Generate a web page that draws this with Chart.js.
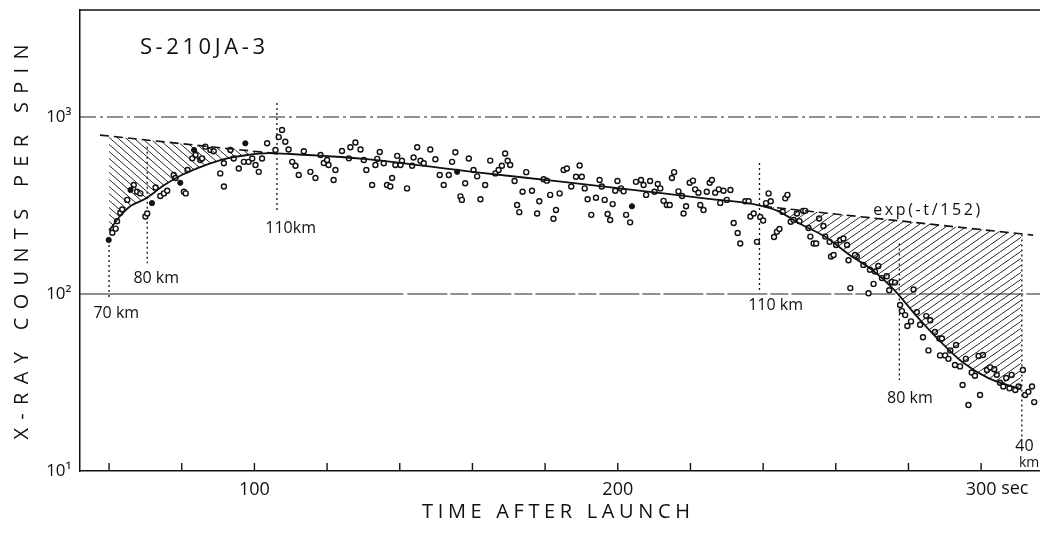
<!DOCTYPE html>
<html>
<head>
<meta charset="utf-8">
<title>S-210JA-3 X-ray counts per spin</title>
<script src="https://cdn.jsdelivr.net/npm/chart.js@4.4.1/dist/chart.umd.min.js"></script>
<style>
  html, body { margin: 0; padding: 0; background: #fff; }
  #wrap { width: 1040px; height: 537px; position: relative; }
</style>
</head>
<body>
<div id="wrap"><canvas id="xray"></canvas></div>
<script>
"use strict";

// Data (time after launch in sec, counts per spin)
var pointTimes = [
  60.9, 61.8, 62.2, 63.1, 63.6, 65.0, 66.8, 67.7, 68.6, 70.0, 70.5, 72.8, 74.1, 75.1, 76.0, 77.8,
  78.3, 80.6, 81.1, 81.6, 82.9, 83.8, 85.1, 85.6, 86.5, 87.9, 88.8, 90.6, 91.6, 91.6, 93.4, 94.3,
  95.7, 97.1, 98.4, 99.4, 100.3, 101.2, 102.1, 103.5, 105.8, 106.7, 107.6,
  108.5, 109.4, 110.4, 111.3, 112.2, 113.6, 115.4, 116.8, 118.2, 119.1, 120.0, 120.4, 121.8, 122.3,
  124.1, 126.4, 127.8, 129.2, 126.0, 130.1, 130.8, 132.4, 133.3, 133.8, 134.5, 135.6, 136.5, 137.4,
  137.9, 138.8, 139.3, 140.6, 140.2, 142.0, 143.4, 143.8, 144.8, 145.7, 146.6, 148.4, 149.8, 151.0,
  152.1, 153.5, 154.4, 155.3, 156.7, 157.1, 158.0, 159.0,
  160.3, 161.3, 162.2, 163.5, 164.9, 166.3, 167.2, 168.1, 169.0, 169.7, 170.4, 171.6, 172.3, 172.9,
  173.8, 174.8, 176.4, 177.8, 178.4, 179.6, 180.5, 181.4, 182.3, 183.0, 184.0, 185.1, 186.0, 187.2,
  188.5, 189.5, 190.1, 190.9, 191.7, 192.7, 194.0, 195.0, 195.6, 196.4, 197.2, 197.9, 198.6, 199.3,
  199.9, 200.9, 201.6, 202.3, 203.4, 205.0, 206.4, 207.1, 207.8, 208.9, 210.1,
  211.0, 211.7, 212.6, 213.5, 214.3, 214.9, 215.5, 216.7, 217.7, 218.1, 218.8, 219.8, 220.7, 221.3,
  222.2, 222.7, 223.6, 224.5, 225.3, 225.9, 226.8, 227.8, 228.2, 229.1, 230.0, 231.0, 231.9, 233.0,
  233.7, 235.1, 236.0, 236.5, 237.4, 238.3, 239.2, 240.0, 240.8, 241.5, 242.1, 243.0, 243.8, 244.5,
  245.4, 246.1, 246.7, 247.6, 248.4, 249.3, 250.0, 251.0, 251.6, 252.5, 253.0, 253.9, 254.6, 255.4,
  256.6, 257.1, 258.3, 258.7, 259.4, 260.1, 261.2, 262.1, 263.1, 263.5, 264.0, 265.8,
  265.3, 267.6, 269.0, 269.4, 270.4, 270.8, 271.7, 272.7, 274.0, 274.7, 275.4, 276.3, 277.7, 278.2,
  279.1, 279.7, 280.7, 281.4, 282.3, 283.2, 284.0, 284.9, 286.0, 285.5, 287.3, 288.5, 289.2, 288.7,
  290.1, 291.0, 291.5, 293.1, 292.8, 294.2, 294.9, 295.8, 296.5, 297.4, 298.3, 299.3, 299.7, 300.5,
  301.6, 302.5, 303.6, 304.3, 305.2, 306.1, 306.9, 307.8, 308.4, 309.4, 310.3, 311.5, 312.1, 313.0,
  314.0, 314.6
];
var pointCounts = [
  222, 234, 258, 288, 300, 340, 413, 378, 370, 274, 285, 400, 358, 370, 383, 470,
  452, 378, 370, 502, 584, 610, 572, 584, 680, 651, 640, 480, 405, 548, 651, 583,
  512, 558, 558, 583, 536, 490, 583, 710, 651, 770, 845,
  724, 655, 558, 530, 470, 640, 490, 452, 610, 550, 572, 536, 441, 502,
  643, 675, 718, 655, 584, 572, 502, 413, 536, 580, 634, 548, 413, 405,
  452, 536, 603, 566, 536, 395, 530, 590, 675, 566, 548, 655, 577, 470,
  413, 470, 558, 632, 356, 340, 422, 583,
  502, 462, 343, 413, 567, 480, 502, 530, 622, 566, 536, 435, 318, 290,
  378, 488, 383, 285, 334, 445, 437, 363, 266, 298, 370, 502, 512, 405,
  460, 532, 460, 395, 343, 280, 350, 441, 405, 340, 283, 262, 322, 383,
  435, 395, 380, 280, 254, 430, 441, 413, 363, 435, 378,
  418, 395, 336, 318, 318, 452, 488, 380, 358, 285, 313, 425, 437, 390,
  373, 318, 298, 378, 425, 441, 373, 390, 327, 383, 340, 387, 252, 221,
  193, 334, 334, 274, 285, 197, 272, 260, 326, 370, 334, 210, 225, 233,
  291, 347, 363, 256, 262, 285, 258, 295, 295, 236, 211, 193, 193, 267,
  242, 211, 197, 163, 166, 189, 202, 206, 189, 155, 108, 163,
  166, 146, 101, 137, 114, 134, 144, 123, 126, 105, 117, 116, 86.7, 80,
  76, 66, 70, 106, 79, 67, 57, 75, 71, 48, 61, 56, 56, 45,
  45, 43, 48, 51.5, 39.7, 39, 30.6, 43, 23.6, 36, 34.5, 44.6, 26.9, 45.2,
  37.2, 38.5, 37.6, 35, 31.5, 30, 33.5, 29.3, 34.9, 28.7, 30, 37.2, 26.9, 28,
  30, 24.5
];
var filledTimes = [59.9, 65.9, 71.8, 79.6, 83.4, 97.5, 155.8, 203.9];
var filledCounts = [202, 387, 326, 425, 651, 710, 490, 313];

// fitted curve
var curveTimes = [60, 63, 66, 70, 75, 80, 86, 92, 98, 104, 110, 130, 160, 185, 210, 225,
  238, 244, 250, 257, 264, 270, 276, 282, 288, 295, 302, 311];
var curveCounts = [228, 275, 315, 345, 410, 470, 530, 580, 610, 625, 618, 580, 490, 430, 375, 345,
  320, 295, 250, 211, 165, 137, 106, 76, 56, 41, 33.5, 29];

// exp(-t/152) envelope, left and right pieces
var envLeftTimes = [57.5, 107];
var envLeftCounts = [790, 618];
var envRightTimes = [240, 314.3];
var envRightCounts = [313, 215];

// altitude markers
var markerTimes = [60, 70.5, 106.2, 239, 277.5, 311.2];
var markerTop = [202, 680, 1200, 549, 193, 217];
var markerBottom = [94, 149, 298, 101, 32.7, 15.6];
var markerLabels = ["70 km", "80 km", "110km", "110 km", "80 km", "40"];

var xTickLabels = [100, 200, 300];
var xTickMarks = [60, 80, 100, 120, 140, 160, 180, 200, 220, 240, 260, 280, 300];
var yTickValues = [10, 100, 1000];
var yTickText = { 10: "10\u00b9", 100: "10\u00b2", 1000: "10\u00b3" };

var FONT = "'Open Sans', 'DejaVu Sans', sans-serif";

function toXY(ts, vs) {
    return ts.map(function (t, i) { return { x: t, y: vs[i] }; });
}

// hatch pattern for the shaded areas
function hatch(w, h, rising) {
    var c = document.createElement("canvas");
    c.width = w; c.height = h;
    var g = c.getContext("2d");
    g.strokeStyle = "#111";
    g.lineWidth = 0.9;
    g.beginPath();
    for (var k = -1; k <= 1; k++) {
        if (rising) {
            g.moveTo(k * w, h); g.lineTo(k * w + w, 0);
        } else {
            g.moveTo(k * w, 0); g.lineTo(k * w + w, h);
        }
    }
    g.stroke();
    return g.createPattern(c, "repeat");
}

// draw text with the letters spread out to a given width
function spacedText(ctx, text, x, y, width, align) {
    var chars = text.split("");
    var widths = chars.map(function (c) { return ctx.measureText(c).width; });
    var natural = widths.reduce(function (a, b) { return a + b; }, 0);
    var gap = chars.length > 1 ? (width - natural) / (chars.length - 1) : 0;
    var cx = align === "center" ? x - width / 2 : x;
    ctx.textAlign = "left";
    chars.forEach(function (c, i) {
        ctx.fillText(c, cx, y);
        cx += widths[i] + gap;
    });
}

var labelSpots = [
    { t: 55.7, v: 78 }, { t: 66.7, v: 123 }, { t: 103, v: 236 },
    { t: 235.9, v: 86.7 }, { t: 274.1, v: 25.8 }, { t: 309.4, v: 13.7 }
];

var decor = {
    id: "decor",
    beforeDatasetsDraw: function (chart) {
        var ctx = chart.ctx, a = chart.chartArea, ys = chart.scales.y;
        ctx.save();
        ctx.strokeStyle = "#222";
        ctx.lineWidth = 1;
        var y3 = ys.getPixelForValue(1000);
        ctx.setLineDash([16, 4, 3, 4]);
        ctx.beginPath(); ctx.moveTo(a.left, y3); ctx.lineTo(a.right, y3); ctx.stroke();
        var y2 = ys.getPixelForValue(100);
        ctx.lineWidth = 1.2;
        ctx.setLineDash([]);
        var split = chart.scales.x.getPixelForValue(141);
        ctx.beginPath(); ctx.moveTo(a.left, y2); ctx.lineTo(split, y2); ctx.stroke();
        ctx.setLineDash([40, 3, 18, 3]);
        ctx.beginPath(); ctx.moveTo(split + 4, y2); ctx.lineTo(a.right, y2); ctx.stroke();
        ctx.restore();
    },
    afterDatasetsDraw: function (chart) {
        var ctx = chart.ctx, a = chart.chartArea;
        var xs = chart.scales.x, ys = chart.scales.y;
        ctx.save();
        ctx.strokeStyle = "#111";
        ctx.fillStyle = "#111";
        ctx.setLineDash([]);

        // frame top
        ctx.lineWidth = 1.5;
        ctx.beginPath(); ctx.moveTo(a.left, a.top); ctx.lineTo(a.right, a.top); ctx.stroke();

        // small inward ticks on the time axis
        ctx.lineWidth = 1.4;
        xTickMarks.forEach(function (t) {
            var px = xs.getPixelForValue(t);
            ctx.beginPath(); ctx.moveTo(px, a.bottom); ctx.lineTo(px, a.bottom - 8); ctx.stroke();
        });

        ctx.textBaseline = "middle";

        // "sec" after 300
        ctx.font = "18px " + FONT;
        ctx.textAlign = "left";
        ctx.fillText("sec", xs.getPixelForValue(300) + 20, a.bottom + 18);

        // altitude labels
        ctx.font = "16px " + FONT;
        markerLabels.forEach(function (txt, i) {
            var s = labelSpots[i];
            ctx.textAlign = "left";
            ctx.fillText(txt, xs.getPixelForValue(s.t), ys.getPixelForValue(s.v));
        });
        ctx.font = "14px " + FONT;
        ctx.fillText("km", xs.getPixelForValue(310.4), ys.getPixelForValue(11.1));

        // envelope label
        ctx.font = "16px " + FONT;
        spacedText(ctx, "exp(-t/152)", xs.getPixelForValue(270.3), ys.getPixelForValue(298), 107, "left");

        // flight name
        ctx.font = "22px " + FONT;
        spacedText(ctx, "S-210JA-3", xs.getPixelForValue(68.5), ys.getPixelForValue(2455), 125, "left");

        // axis titles
        ctx.font = "20px " + FONT;
        spacedText(ctx, "TIME AFTER LAUNCH", 556, 512, 268, "center");
        ctx.translate(22, 242);
        ctx.rotate(-Math.PI / 2);
        spacedText(ctx, "X-RAY COUNTS PER SPIN", 0, 0, 395, "center");
        ctx.restore();
    }
};

var datasets = [
    {   // 0: fitted curve
        data: toXY(curveTimes, curveCounts),
        showLine: true, borderColor: "#111", borderWidth: 1.8,
        pointRadius: 0, cubicInterpolationMode: "monotone", fill: false
    },
    {   // 1: left envelope, hatched down to the curve
        data: toXY(envLeftTimes, envLeftCounts),
        showLine: true, borderColor: "#111", borderWidth: 1.6, borderDash: [9, 5],
        pointRadius: 0, fill: "-1", backgroundColor: hatch(8, 7, false)
    },
    {   // 2: right envelope, hatched down to the curve
        data: toXY(envRightTimes, envRightCounts),
        showLine: true, borderColor: "#111", borderWidth: 1.6, borderDash: [9, 5],
        pointRadius: 0, fill: "-2", backgroundColor: hatch(10, 7, true)
    },
    {   // 3: open points
        data: toXY(pointTimes, pointCounts),
        pointRadius: 2.5, pointBorderWidth: 1.4,
        pointBackgroundColor: "#fff", pointBorderColor: "#111"
    },
    {   // 4: filled points
        data: toXY(filledTimes, filledCounts),
        pointRadius: 2.6, pointBorderWidth: 1,
        pointBackgroundColor: "#111", pointBorderColor: "#111"
    }
];

// dotted altitude marker lines
markerTimes.forEach(function (t, i) {
    datasets.push({
        data: [{ x: t, y: markerTop[i] }, { x: t, y: markerBottom[i] }],
        showLine: true, borderColor: "#111", borderWidth: 1.3, borderDash: [2, 3],
        pointRadius: 0, fill: false
    });
});

var ctx = document.getElementById("xray").getContext("2d");
var chart = new Chart(ctx, {
    type: "scatter",
    data: { datasets: datasets },
    options: {
        responsive: true,
        maintainAspectRatio: false,
        animation: false,
        layout: { autoPadding: false, padding: { top: 10, right: 0, left: 0, bottom: 0 } },
        plugins: { legend: { display: false }, tooltip: { enabled: false } },
        scales: {
            x: {
                type: "linear",
                min: 52,
                max: 316.2,
                grid: { display: false, drawTicks: false },
                border: { display: true, color: "#111", width: 1.5 },
                afterBuildTicks: function (scale) {
                    scale.ticks = xTickLabels.map(function (v) { return { value: v }; });
                },
                afterFit: function (scale) { scale.height = 66; },
                ticks: {
                    color: "#111",
                    font: { family: FONT, size: 18 },
                    padding: 8,
                    maxRotation: 0,
                    autoSkip: false
                }
            },
            y: {
                type: "logarithmic",
                min: 10,
                max: 4022,
                grid: { display: false, drawTicks: false },
                border: { display: true, color: "#111", width: 1.5 },
                afterBuildTicks: function (scale) {
                    scale.ticks = yTickValues.map(function (v) { return { value: v }; });
                },
                afterFit: function (scale) { scale.width = 80; },
                ticks: {
                    color: "#111",
                    font: { family: FONT, size: 17, lineHeight: 1 },
                    padding: 0,
                    autoSkip: false,
                    // trailing en space keeps the label clear of the axis
                    callback: function (v) { return yTickText[v] ? yTickText[v] + "\u2002" : ""; }
                }
            }
        }
    },
    plugins: [decor]
});
</script>
</body>
</html>
